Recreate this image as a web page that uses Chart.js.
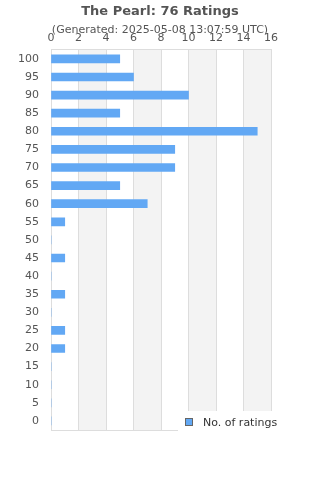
<!DOCTYPE html>
<html>
<head>
<meta charset="utf-8">
<script src="https://cdn.jsdelivr.net/npm/chart.js@4/dist/chart.umd.min.js"></script>
<style>
html,body{margin:0;padding:0;background:#fff;}
#wrap{width:320px;height:480px;position:relative;}
</style>
</head>
<body>
<div id="wrap"><canvas id="c" width="320" height="480"></canvas></div>
<script>
const titleText = "The Pearl: 76 Ratings";
const subtitleText = "(Generated: 2025-05-08 13:07:59 UTC)";
const categories = ["100","95","90","85","80","75","70","65","60","55","50","45","40","35","30","25","20","15","10","5","0"];
const ratingCounts = [5,6,10,5,15,9,9,5,7,1,0,1,0,1,0,1,1,0,0,0,0];
const seriesLabel = "No. of ratings";
const xTicks = [0,2,4,6,8,10,12,14,16];

const barColor = "#62a8f4";
const FONT = "'DejaVu Sans', sans-serif";

const bandsPlugin = {
  id: 'bands',
  beforeDraw(chart) {
    const {ctx, chartArea: a, scales: {x}} = chart;
    ctx.save();
    ctx.fillStyle = '#f3f3f3';
    for (let i = 1; i < xTicks.length; i += 2) {
      const x0 = x.getPixelForValue(xTicks[i]);
      const x1 = x.getPixelForValue(xTicks[i + 1] !== undefined ? xTicks[i + 1] : x.max);
      ctx.fillRect(x0, a.top, x1 - x0, a.bottom - a.top);
    }
    ctx.strokeStyle = '#dddddd';
    ctx.lineWidth = 1;
    ctx.beginPath();
    ctx.moveTo(a.left, Math.round(a.bottom) + 0.5);
    ctx.lineTo(a.right, Math.round(a.bottom) + 0.5);
    ctx.stroke();
    ctx.restore();
  },
  afterDraw(chart) {
    const {ctx} = chart;
    const ds = chart.data.datasets[0];
    ctx.save();
    ctx.fillStyle = '#ffffff';
    ctx.fillRect(178, 411, 320 - 178, 22);
    ctx.fillStyle = ds.backgroundColor;
    ctx.fillRect(186, 419, 7, 7);
    ctx.strokeStyle = '#666';
    ctx.lineWidth = 1;
    ctx.strokeRect(185.5, 418.5, 7, 7);
    ctx.fillStyle = '#333';
    ctx.font = "11px " + FONT;
    ctx.textBaseline = 'middle';
    ctx.textAlign = 'left';
    ctx.fillText(ds.label, 203, 423);
    ctx.restore();
  }
};

new Chart(document.getElementById('c'), {
  type: 'bar',
  data: {
    labels: categories,
    datasets: [{
      label: seriesLabel,
      data: ratingCounts,
      backgroundColor: barColor,
      borderWidth: 0,
      barThickness: 8
    }]
  },
  options: {
    indexAxis: 'y',
    responsive: false,
    animation: false,
    devicePixelRatio: 1,
    layout: {padding: {top: 4, left: 0, right: 0, bottom: 50}},
    plugins: {
      legend: {display: false},
      tooltip: {enabled: false},
      title: {
        display: true, text: titleText, color: '#555',
        font: {family: FONT, size: 13, weight: 'bold'},
        padding: {top: 0, bottom: 4}
      },
      subtitle: {
        display: true, text: subtitleText, color: '#555',
        font: {family: FONT, size: 11},
        padding: {top: 0, bottom: -6}
      }
    },
    scales: {
      x: {
        position: 'top',
        min: 0, max: 16,
        afterBuildTicks(scale) { scale.ticks = xTicks.map(v => ({value: v})); },
        afterFit(scale) { scale.height = 19; },
        ticks: {color: '#555', font: {family: FONT, size: 11}, padding: 5, stepSize: 2},
        grid: {color: '#dddddd', drawTicks: false},
        border: {display: true, color: '#dddddd'}
      },
      y: {
        afterFit(scale) { scale.width = 51; },
        ticks: {color: '#555', font: {family: FONT, size: 11}, padding: 12, autoSkip: false},
        grid: {display: false, drawTicks: false},
        border: {display: true, color: '#dddddd'}
      },
      spacer: {
        type: 'linear',
        position: 'right',
        axis: 'y',
        display: true,
        afterFit(scale) { scale.width = 49; },
        ticks: {display: false},
        grid: {display: false, drawTicks: false},
        border: {display: false}
      }
    }
  },
  plugins: [bandsPlugin]
});
</script>
</body>
</html>
